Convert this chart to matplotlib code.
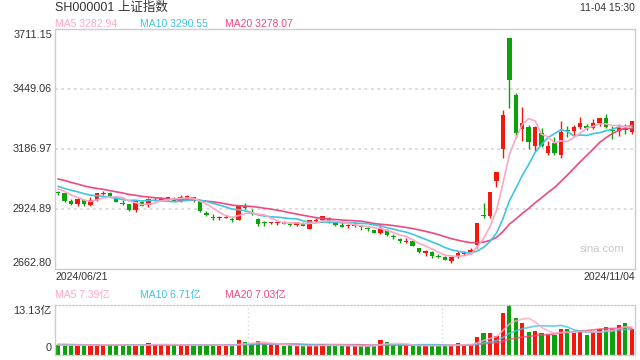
import matplotlib
matplotlib.use('Agg')
import matplotlib.pyplot as plt
import numpy as np
import pandas as pd

plt.rcParams['font.family'] = ['Liberation Sans', 'Noto Sans CJK SC']

# daily candles, 2024/06/21 .. 2024/11/04
opens = [3000, 2995, 2963, 2946, 2967, 2943,
         2966, 2993, 2996, 2979, 2951, 2948, 2920, 2956, 2942, 2968, 2967, 2972, 2974, 2960, 2970, 2979, 2963,
         2910, 2893, 2886, 2889, 2883, 2878,
         2940, 2910, 2881, 2870, 2865, 2863, 2867, 2860, 2858, 2866, 2841, 2873, 2880, 2888, 2863, 2857, 2852,
         2854, 2851, 2845, 2833, 2820,
         2836, 2808, 2795, 2784, 2786, 2755, 2734, 2738, 2723, 2717, 2700, 2715, 2731, 2737, 2771, 2900, 2894,
         3050, 3190,
         3674, 3422, 3275, 3285, 3200, 3260, 3170, 3215, 3160, 3272, 3268, 3285, 3287, 3282, 3302, 3325, 3270,
         3266,
         3280, 3263]
highs = [3006, 2998, 2968, 2973, 2968, 2979,
         2995, 3005, 3000, 2985, 2966, 2950, 2960, 2960, 2973, 2978, 2979, 2979, 2980, 2988, 2986, 2980, 2967,
         2919, 2905, 2897, 2901, 2893, 2941,
         2951, 2925, 2888, 2875, 2871, 2870, 2873, 2864, 2869, 2868, 2880, 2887, 2895, 2890, 2866, 2872, 2861,
         2871, 2855, 2848, 2835, 2860,
         2840, 2815, 2799, 2800, 2794, 2757, 2745, 2743, 2728, 2723, 2722, 2743, 2743, 2756, 2864, 2952, 3000,
         3088, 3358,
         3674, 3432, 3373, 3295, 3288, 3279, 3223, 3242, 3312, 3290, 3295, 3328, 3297, 3320, 3323, 3340, 3287,
         3297,
         3299, 3312]
lows = [2988, 2958, 2942, 2940, 2941, 2938,
        2960, 2988, 2979, 2955, 2944, 2918, 2912, 2938, 2934, 2962, 2960, 2965, 2960, 2955, 2966, 2957, 2915,
        2897, 2880, 2880, 2887, 2869, 2877,
        2928, 2902, 2852, 2851, 2859, 2855, 2860, 2850, 2852, 2850, 2838, 2869, 2869, 2863, 2850, 2847, 2843,
        2848, 2836, 2829, 2820, 2816,
        2810, 2796, 2776, 2777, 2765, 2732, 2721, 2713, 2714, 2702, 2689, 2711, 2726, 2731, 2755, 2889, 2889,
        3021, 3150,
        3369, 3237, 3224, 3188, 3181, 3198, 3160, 3162, 3150, 3242, 3250, 3277, 3272, 3276, 3288, 3282, 3231,
        3245,
        3255, 3255]
closes = [2998, 2963, 2950, 2972, 2946, 2967,
          2994, 2997, 2982, 2957, 2950, 2922, 2959, 2939, 2970, 2971, 2974, 2977, 2963, 2977, 2982, 2964, 2916,
          2902, 2887, 2891, 2892, 2879, 2939,
          2932, 2905, 2861, 2867, 2869, 2870, 2862, 2858, 2868, 2851, 2877, 2879, 2894, 2867, 2857, 2849, 2855,
          2856, 2849, 2838, 2823, 2842,
          2812, 2803, 2785, 2788, 2766, 2737, 2744, 2722, 2717, 2704, 2718, 2736, 2737, 2748, 2864, 2897, 3000,
          3088, 3336.50,
          3489.78, 3258.86, 3301.93, 3217.74, 3284.32, 3201.29, 3202.95, 3169.38, 3261.56, 3268.11, 3285.87,
          3302.80, 3280.26, 3299.70, 3322.20, 3286.41, 3266.24, 3279.82,
          3272.01, 3310.21]
# volume, 亿
volumes = [2.7, 2.6, 2.5, 2.6, 2.5, 2.7,
           2.8, 2.7, 2.6, 2.6, 2.5, 2.4, 2.7, 2.6, 3.1, 2.8, 2.6, 2.6, 2.5, 2.7, 2.6, 2.5, 2.8, 2.6, 2.6, 2.4,
           2.4, 2.5, 4.0,
           3.4, 3.0, 3.6, 3.0, 2.6, 2.5, 2.4, 2.5, 2.4, 2.4, 2.5, 2.5, 2.8, 2.6, 2.5, 2.4, 2.3, 2.3, 2.3, 2.4,
           2.6, 3.9,
           3.4, 2.6, 2.5, 2.4, 2.3, 2.6, 2.5, 2.4, 2.4, 2.6, 2.6, 3.1, 2.6, 2.8, 4.7, 5.8, 5.8, 4.9, 11.0,
           13.13, 9.8, 8.3, 6.1, 6.3, 5.8, 5.3, 5.27, 6.8, 6.7, 5.7, 6.4, 5.25, 6.0, 6.8, 7.25, 6.7, 7.9,
           8.4, 6.7]
# the 19 sessions before the window (needed for the moving averages)
prior_closes = [3088.87, 3124.04, 3109.57, 3111.02, 3091.68, 3086.81, 3078.49, 3091.20, 3065.40, 3048.79,
                3051.28, 3028.05, 3037.47, 3028.92, 3032.63, 3015.89, 3030.25, 3018.05, 3005.44]
prior_volumes = [3.1, 3.0, 3.2, 2.9, 3.0, 2.8, 2.9, 2.8, 2.7, 2.8, 2.6, 2.7, 2.7, 2.6, 2.8, 2.7, 2.6, 2.5, 2.6]

price_ticks = [2662.80, 2924.89, 3186.97, 3449.06, 3711.15]
vol_max = 13.13
first_date = '2024/06/21'
last_date = '2024/11/04'
title = 'SH000001 上证指数'
stamp = '11-04 15:30'

RED = '#f2180c'
GREEN = '#0ba20b'
C5, C10, C20 = '#ffa6c6', '#3fc4e2', '#ee4a7e'
GRID = '#d9d9d9'
SPINE = '#cccccc'
TXT = '#333333'

n = len(closes)
x = np.arange(n)
o = np.array(opens, float)
h = np.array(highs, float)
l = np.array(lows, float)
c = np.array(closes, float)
up = c >= o
cols = np.where(up, RED, GREEN)

all_c = pd.Series(prior_closes + closes)
ma = {k: all_c.rolling(k).mean().iloc[len(prior_closes):].to_numpy() for k in (5, 10, 20)}
all_v = pd.Series(prior_volumes + volumes)
vma = {k: all_v.rolling(k).mean().iloc[len(prior_volumes):].to_numpy() for k in (5, 10, 20)}

W, H = 640, 360
fig = plt.figure(figsize=(6.4, 3.6), dpi=100)


def fx(px):
    return px / W


def fy(py):
    return 1 - py / H


# price panel
ax = fig.add_axes([fx(55), fy(269.3), fx(580), 240 / H])
ax.set_xlim(-0.5, n - 0.5)
ax.set_ylim(price_ticks[0], price_ticks[-1])
for t in price_ticks[1:-1]:
    ax.axhline(t, color=GRID, lw=1.3, ls=(0, (1.5, 2)), zorder=0)
ax.vlines(x, l, h, colors=cols, lw=1, zorder=2)
body = np.maximum(np.abs(c - o), 4)
ax.bar(x, body, bottom=np.minimum(o, c), width=0.7, color=cols, lw=0, zorder=3)
ax.plot(x, ma[20], color=C20, lw=1.2, zorder=4)
ax.plot(x, ma[10], color=C10, lw=1.2, zorder=4)
ax.plot(x, ma[5], color=C5, lw=1.2, zorder=4)
ax.set_xticks([])
ax.set_yticks([])
for s in ax.spines.values():
    s.set_color(SPINE)
    s.set_linewidth(1)
ax.text(0.943, 0.085, 'sina.com', transform=ax.transAxes, ha='center', va='center',
        fontsize=8, color='#c9c9c9')

# volume panel
av = fig.add_axes([fx(55), fy(355), fx(580), 50 / H])
av.set_xlim(-0.5, n - 0.5)
av.set_ylim(0, vol_max)
av.bar(x, volumes, width=0.65, color=cols, lw=0, zorder=2)
av.plot(x, vma[20], color=C20, lw=1.2, alpha=0.8, zorder=3)
av.plot(x, vma[10], color=C10, lw=1.2, alpha=0.8, zorder=3)
av.plot(x, vma[5], color=C5, lw=1.2, alpha=0.8, zorder=3)
x0, x1 = av.get_xlim()
for k in (1, 2):
    av.axvline(x0 + (x1 - x0) * k / 3, color=GRID, lw=1, ls=(0, (1, 2)), zorder=0)
av.set_xticks([])
av.set_yticks([])
for name, s in av.spines.items():
    s.set_color(SPINE)
    s.set_linewidth(1)
    if name in ('top', 'bottom'):
        s.set_linestyle((0, (1, 1.5)))

# header texts
fig.text(fx(55), fy(8), title, fontsize=9, color=TXT, ha='left', va='center')
fig.text(fx(635), fy(8), stamp, fontsize=7.5, color=TXT, ha='right', va='center')
for px, k, col in ((55, 5, C5), (140, 10, C10), (225, 20, C20)):
    fig.text(fx(px), fy(24), f'MA{k} {ma[k][-1]:.2f}', fontsize=7.5, color=col, ha='left', va='center')
    fig.text(fx(px), fy(295), f'MA{k} {vma[k][-1]:.2f}亿', fontsize=7.5, color=col, ha='left', va='center')

# y labels
label_y = [263.3, 209.3, 149.3, 89.3, 35]
for t, py in zip(price_ticks, label_y):
    fig.text(fx(52), fy(py), f'{t:.2f}', fontsize=7.8, color=TXT, ha='right', va='center')
fig.text(fx(52), fy(311), f'{vol_max:.2f}亿', fontsize=7.8, color=TXT, ha='right', va='center')
fig.text(fx(52), fy(347.7), '0', fontsize=7.8, color=TXT, ha='right', va='center')

# dates
fig.text(fx(55), fy(277.3), first_date, fontsize=7.6, color=TXT, ha='left', va='center')
fig.text(fx(635), fy(277.3), last_date, fontsize=7.6, color=TXT, ha='right', va='center')

fig.savefig('out.png', dpi=100)
